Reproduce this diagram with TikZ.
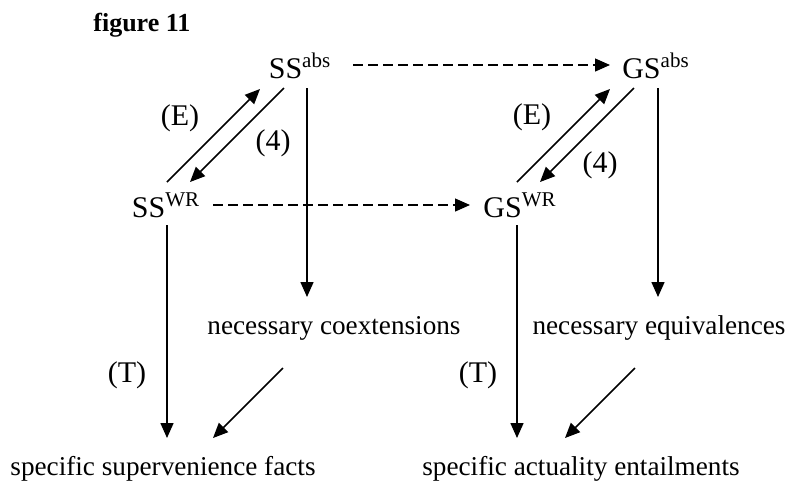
\documentclass[tikz,border=0pt]{standalone}
\usepackage{fontspec}
\setmainfont{Liberation Serif}
\usetikzlibrary{arrows.meta}

\begin{document}
\begin{tikzpicture}[
    x=0.5pt, y=-0.5pt,
    lbl/.style={anchor=base, inner sep=0pt, font=\fontsize{13.6}{16}\selectfont},
    tag/.style={lbl, font=\fontsize{15}{18}\selectfont},
    imp/.style={-{Triangle[length=7.5pt,width=6.5pt]}, line width=0.75pt},
    weak/.style={imp, dash pattern=on 5pt off 2.5pt, line width=0.6pt}
]
    \useasboundingbox (0,0) rectangle (787,484);
    \node[lbl, anchor=base west, font=\fontsize{13}{16}\selectfont\bfseries] (fig) at (93,31) {figure 11};

    % upper and lower squares
    \node[tag] (ssabs) at (300,78) {SS\textsuperscript{abs}};
    \node[tag] (gsabs) at (656,78) {GS\textsuperscript{abs}};
    \node[tag] (sswr) at (166,217) {SS\textsuperscript{WR}};
    \node[tag] (gswr) at (520,217) {GS\textsuperscript{WR}};
    \node[lbl] (nce) at (334,334) {necessary coextensions};
    \node[lbl] (neq) at (659,334) {necessary equivalences};
    \node[lbl] (ssf) at (163,475) {specific supervenience facts};
    \node[lbl] (sae) at (581,475) {specific actuality entailments};

    % arrow labels
    \node[tag] (e1) at (180,125) {(E)};
    \node[tag] (f1) at (273,150) {(4)};
    \node[tag] (e2) at (532,124) {(E)};
    \node[tag] (f2) at (600,172) {(4)};
    \node[tag] (t1) at (127,382) {(T)};
    \node[tag] (t2) at (478,382) {(T)};

    \draw[weak] ([shift={(53,-13)}]ssabs.base) -- ([shift={(-46,-13)}]gsabs.base);
    \draw[weak] ([shift={(47,-12)}]sswr.base) -- ([shift={(-50,-12)}]gswr.base);

    \draw[imp] ([shift={(1,-35)}]sswr.base) -- ([shift={(-40,11)}]ssabs.base);
    \draw[imp] ([shift={(-16,10)}]ssabs.base) -- ([shift={(24,-35)}]sswr.base);
    \draw[imp] ([shift={(-3,-35)}]gswr.base) -- ([shift={(-46,11)}]gsabs.base);
    \draw[imp] ([shift={(-22,10)}]gsabs.base) -- ([shift={(20,-35)}]gswr.base);

    \draw[imp] ([shift={(7,10)}]ssabs.base) -- ([shift={(-27,-37)}]nce.base);
    \draw[imp] ([shift={(2,10)}]gsabs.base) -- ([shift={(-1,-37)}]neq.base);
    \draw[imp] ([shift={(1,8)}]sswr.base) -- ([shift={(4,-37)}]ssf.base);
    \draw[imp] ([shift={(-3,8)}]gswr.base) -- ([shift={(-64,-37)}]sae.base);

    \draw[imp] ([shift={(-51,34)}]nce.base) -- ([shift={(50,-37)}]ssf.base);
    \draw[imp] ([shift={(-24,34)}]neq.base) -- ([shift={(-16,-37)}]sae.base);
\end{tikzpicture}
\end{document}
